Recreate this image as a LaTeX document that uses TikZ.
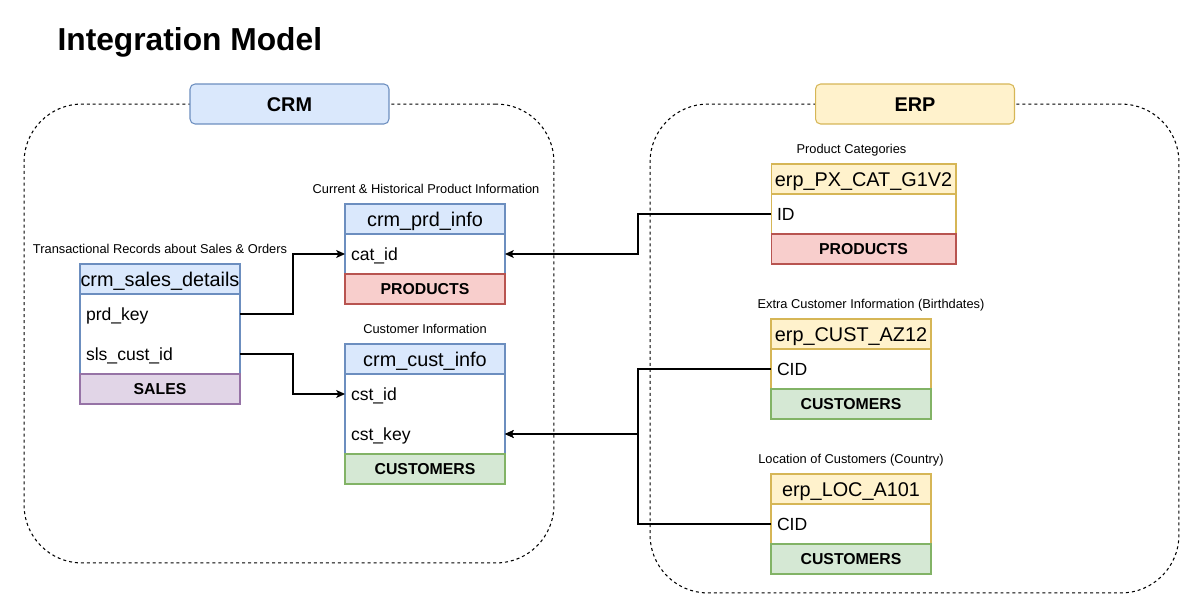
\documentclass[tikz,border=0pt]{standalone}
\usepackage{fontspec}
\setmainfont{Liberation Sans}
\usetikzlibrary{arrows.meta}
\definecolor{bluef}{HTML}{DAE8FC}\definecolor{bluel}{HTML}{6C8EBF}
\definecolor{yelf}{HTML}{FFF2CC}\definecolor{yell}{HTML}{D6B656}
\definecolor{redf}{HTML}{F8CECC}\definecolor{redl}{HTML}{B85450}
\definecolor{grnf}{HTML}{D5E8D4}\definecolor{grnl}{HTML}{82B366}
\definecolor{purf}{HTML}{E1D5E7}\definecolor{purl}{HTML}{9673A6}
\begin{document}
\begin{tikzpicture}[x=0.02cm,y=-0.02cm,line width=0.6pt,
  container/.style={draw, dash pattern=on 1.7pt off 1.7pt, rounded corners=1.16cm, inner sep=0, outer sep=0},
  grouplbl/.style={draw, rounded corners=0.1cm, minimum width=3.98cm, minimum height=0.8cm, inner sep=0, outer sep=0,
     font=\bfseries\fontsize{11.3}{13}\selectfont, text height=8.1pt, text depth=0pt},
  hdr/.style={draw, minimum height=0.6cm, inner sep=0, outer sep=0,
     font=\fontsize{11.3}{13}\selectfont, text height=8.1pt, text depth=0pt},
  tbody/.style={draw, fill=white, inner sep=0, outer sep=0},
  ftr/.style={draw, minimum height=0.6cm, inner sep=0, outer sep=0,
     font=\bfseries\fontsize{9}{11}\selectfont, text height=6.45pt, text depth=0pt},
  trow/.style={minimum height=0.8cm, inner xsep=0.12cm, inner ysep=0, outer sep=0, align=left,
     font=\fontsize{10}{12}\selectfont, text height=7.16pt, text depth=0pt},
  lbl/.style={font=\fontsize{7.3}{9}\selectfont, text height=5.23pt, text depth=0pt, inner sep=0},
  conn/.style={draw, -{Stealth[length=5pt,width=4.5pt,inset=1.2pt]}},
  line/.style={draw}
]
\useasboundingbox (0,0) rectangle (1200,615);

% title
\node[anchor=west, inner sep=0, font=\bfseries\fontsize{18.07}{21}\selectfont, text height=12.94pt, text depth=0pt] (title) at (57,39.5) {Integration Model};

% containers
\node[container, minimum width=10.6cm, minimum height=9.18cm] (crmarea) at (289,333.5) {};
\node[container, minimum width=10.58cm, minimum height=9.78cm] (erparea) at (914.5,348.5) {};
\node[grouplbl, fill=bluef, draw=bluel] (crmlbl) at (289.5,104) {CRM};
\node[grouplbl, fill=yelf, draw=yell] (erplbl) at (915,104) {ERP};

% ---------- crm_sales_details
\node[lbl] (salesl) at (160,249) {Transactional Records about Sales \& Orders};
\node[hdr, fill=bluef, draw=bluel, minimum width=3.2cm] (salesh) at (160,279) {crm\_sales\_details};
\node[tbody, draw=bluel, minimum width=3.2cm, minimum height=1.6cm] (salesb) at (160,334) {};
\node[trow, text width=2.96cm] (prdkey) at (160,314) {prd\_key};
\node[trow, text width=2.96cm] (slscust) at (160,354) {sls\_cust\_id};
\node[ftr, fill=purf, draw=purl, minimum width=3.2cm] (salesf) at (160,389) {SALES};

% ---------- crm_prd_info
\node[lbl] (prdl) at (426,189) {Current \& Historical Product Information};
\node[hdr, fill=bluef, draw=bluel, minimum width=3.2cm] (prdh) at (425,219) {crm\_prd\_info};
\node[tbody, draw=bluel, minimum width=3.2cm, minimum height=0.8cm] (prdb) at (425,254) {};
\node[trow, text width=2.96cm] (catid) at (425,254) {cat\_id};
\node[ftr, fill=redf, draw=redl, minimum width=3.2cm] (prdf) at (425,289) {PRODUCTS};

% ---------- crm_cust_info
\node[lbl] (custl) at (425,329) {Customer Information};
\node[hdr, fill=bluef, draw=bluel, minimum width=3.2cm] (custh) at (425,359) {crm\_cust\_info};
\node[tbody, draw=bluel, minimum width=3.2cm, minimum height=1.6cm] (custb) at (425,414) {};
\node[trow, text width=2.96cm] (cstid) at (425,394) {cst\_id};
\node[trow, text width=2.96cm] (cstkey) at (425,434) {cst\_key};
\node[ftr, fill=grnf, draw=grnl, minimum width=3.2cm] (custf) at (425,469) {CUSTOMERS};

% ---------- erp_PX_CAT_G1V2
\node[lbl] (pxl) at (851.5,149) {Product Categories};
\node[hdr, fill=yelf, draw=yell, minimum width=3.7cm] (pxh) at (863.5,179) {erp\_PX\_CAT\_G1V2};
\node[tbody, draw=yell, minimum width=3.7cm, minimum height=0.8cm] (pxb) at (863.5,214) {};
\node[trow, text width=3.46cm] (pxid) at (863.5,214) {ID};
\node[ftr, fill=redf, draw=redl, minimum width=3.7cm] (pxf) at (863.5,249) {PRODUCTS};

% ---------- erp_CUST_AZ12
\node[lbl] (azl) at (871,304) {Extra Customer Information (Birthdates)};
\node[hdr, fill=yelf, draw=yell, minimum width=3.2cm] (azh) at (851,334) {erp\_CUST\_AZ12};
\node[tbody, draw=yell, minimum width=3.2cm, minimum height=0.8cm] (azb) at (851,369) {};
\node[trow, text width=2.96cm] (azcid) at (851,369) {CID};
\node[ftr, fill=grnf, draw=grnl, minimum width=3.2cm] (azf) at (851,404) {CUSTOMERS};

% ---------- erp_LOC_A101
\node[lbl] (locl) at (851,459) {Location of Customers (Country)};
\node[hdr, fill=yelf, draw=yell, minimum width=3.2cm] (loch) at (851,489) {erp\_LOC\_A101};
\node[tbody, draw=yell, minimum width=3.2cm, minimum height=0.8cm] (locb) at (851,524) {};
\node[trow, text width=2.96cm] (loccid) at (851,524) {CID};
\node[ftr, fill=grnf, draw=grnl, minimum width=3.2cm] (locf) at (851,559) {CUSTOMERS};

% ---------- connectors
\draw[conn] (prdkey.east) -- ++(53,0) |- (catid.west);
\draw[conn] (slscust.east) -- ++(53,0) |- (cstid.west);
\draw[conn] (pxid.west) -- ++(-133,0) |- (catid.east);
\draw[conn] (azcid.west) -- ++(-133,0) |- (cstkey.east);
\draw[conn] (loccid.west) -- ++(-133,0) |- (cstkey.east);
\end{tikzpicture}
\end{document}
